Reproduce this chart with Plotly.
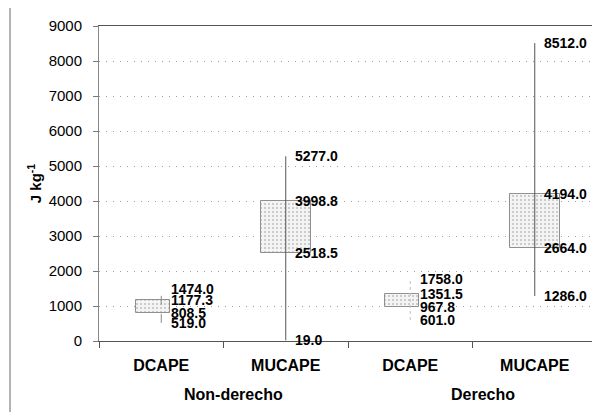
import plotly.graph_objects as go

groups = ["Non-derecho", "Non-derecho", "Derecho", "Derecho"]
variables = ["DCAPE", "MUCAPE", "DCAPE", "MUCAPE"]
high = [1474.0, 5277.0, 1758.0, 8512.0]
q3 = [1177.3, 3998.8, 1351.5, 4194.0]
q1 = [808.5, 2518.5, 967.8, 2664.0]
low = [519.0, 19.0, 601.0, 1286.0]
y_ticks = [0, 1000, 2000, 3000, 4000, 5000, 6000, 7000, 8000, 9000]

centers = [i + 0.5 for i in range(len(variables))]
box_offset = [-0.2, -0.2, -0.2, -0.2]
box_width = [0.27, 0.4, 0.27, 0.4]
whisker_dash = ["dash", "solid", "dot", "solid"]
whisker_color = ["#8a8a8a", "#555555", "#c0c0c0", "#555555"]

fig = go.Figure()

# whiskers (low-high)
for i in range(len(variables)):
    fig.add_trace(go.Scatter(
        x=[centers[i], centers[i]], y=[low[i], high[i]], mode="lines",
        line=dict(color=whisker_color[i], width=1, dash=whisker_dash[i]),
        showlegend=False, hoverinfo="skip"))

# boxes q1-q3
fig.add_trace(go.Bar(
    x=centers, y=[a - b for a, b in zip(q3, q1)], base=q1,
    offset=box_offset, width=box_width,
    marker=dict(color="white",
                line=dict(color="#8f8f8f", width=1),
                pattern=dict(shape=".", fgcolor="#8a8a8a", bgcolor="#f4f4f4",
                             size=4, solidity=0.2)),
    showlegend=False, hoverinfo="skip"))

font_lbl = dict(family="Liberation Sans, Arial, sans-serif", size=14, color="black")
for i in range(len(variables)):
    for v in (high[i], q3[i], q1[i], low[i]):
        fig.add_annotation(x=centers[i] + 0.06, y=v, text="<b>%.1f</b>" % v,
                           showarrow=False, xanchor="left", yanchor="middle",
                           font=font_lbl, xref="x", yref="y")

# group labels
group_names = []
for g in groups:
    if g not in group_names:
        group_names.append(g)
for g in group_names:
    xs = [centers[i] for i in range(len(groups)) if groups[i] == g]
    fig.add_annotation(x=sum(xs) / len(xs), y=0, yref="paper", xref="x",
                       yshift=-53, xshift=10, text="<b>%s</b>" % g, showarrow=False,
                       yanchor="middle", xanchor="center",
                       font=dict(family="Liberation Sans, Arial, sans-serif", size=16, color="black"))

# outer frame lines (decoration)
fig.add_shape(type="line", xref="paper", yref="paper", x0=-0.1787, x1=-0.1787,
              y0=1.0603, y1=-0.3, line=dict(color="#9a9a9a", width=1.5))
fig.add_shape(type="line", xref="paper", yref="paper", x0=-0.1787, x1=1.1,
              y0=1.0603, y1=1.0603, line=dict(color="#c8c8c8", width=1))

fig.update_layout(
    width=592, height=404,
    margin=dict(l=91, r=3, t=18, b=71),
    paper_bgcolor="white", plot_bgcolor="white",
    font=dict(family="Liberation Sans, Arial, sans-serif", size=15, color="black"),
    bargap=0,
)
fig.update_xaxes(
    range=[0, len(variables)], tickmode="array", tickvals=centers,
    ticktext=["<b>%s</b>" % v for v in variables], ticks="",
    tickfont=dict(size=16), ticklabelstandoff=10,
    showgrid=False, showline=True, linecolor="#555555", linewidth=1, mirror=True,
    minor=dict(tick0=0, dtick=1, ticks="outside", ticklen=6, tickcolor="#555555", showgrid=False),
    zeroline=False, fixedrange=True,
)
fig.update_yaxes(
    range=[0, 9000], tickmode="array", tickvals=y_ticks,
    ticks="outside", ticklen=5, tickcolor="#777777", ticklabelstandoff=8,
    tickfont=dict(size=15),
    showgrid=True, gridcolor="#a0a0a0", griddash="1px,6px", gridwidth=1,
    showline=True, linecolor="#888888", linewidth=1, mirror=True,
    zeroline=False,
    title=dict(text="<b>J kg<sup>-1</sup></b>", font=dict(size=15), standoff=3),
)

fig.write_html("out.html")
